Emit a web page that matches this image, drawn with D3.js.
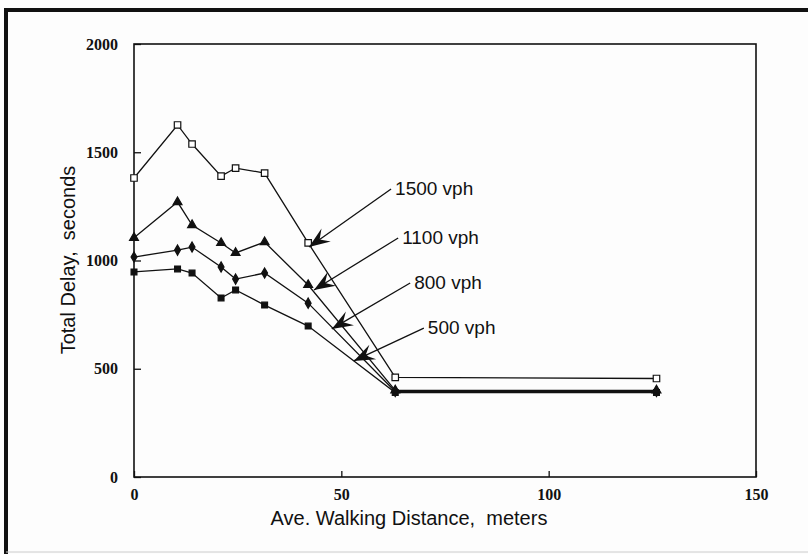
<!DOCTYPE html>
<html lang="en">
<head>
    <meta charset="utf-8">
    <style type="text/css">
        body { margin: 0; background: #fdfdfd; }
        .tick text { font-family: "Liberation Serif", serif; font-weight: bold; font-size: 16px; fill: #111; }
        .axis-title { font-family: "Liberation Sans", Arial, sans-serif; font-size: 20px; fill: #111; white-space: pre; }
        .series { fill: none; stroke: #111; stroke-width: 1.3; }
        .leader { stroke: #111; stroke-width: 1.3; }
        .callout { font-family: "Liberation Sans", Arial, sans-serif; font-size: 19px; fill: #111; }
    </style>
</head>
<body>
<svg width="808" height="554"></svg>

<script src="https://d3js.org/d3.v7.min.js"></script>
<script type="text/javascript">

    // walking distance (m)
    var distance = [0, 10.5, 14, 21, 24.5, 31.5, 42, 63, 126];

    // total delay (s) per traffic volume
    var delay1500 = [1381, 1626, 1538, 1390, 1427, 1404, 1081, 460, 455];
    var delay1100 = [1105, 1270, 1164, 1081, 1035, 1085, 887, 400, 400];
    var delay800  = [1016, 1048, 1062, 970, 914, 942, 803, 395, 395];
    var delay500  = [947, 961, 942, 827, 864, 794, 697, 390, 390];

    var xTicks = [0, 50, 100, 150];
    var yTicks = [0, 500, 1000, 1500, 2000];

    // callouts: label, arrow start (x, delay) and arrow tip (x, delay)
    var calloutLabels = ["1500 vph", "1100 vph", "800 vph", "500 vph"];
    var calloutFrom = [[62, 1330], [63.7, 1104], [66.6, 896], [69.9, 688]];
    var calloutTip  = [[42.2, 1062], [43.4, 864], [47.7, 684], [53, 536]];

    var svg = d3.select("svg");
    var plotLeft = 134, plotRight = 756, plotTop = 44, plotBottom = 477;

    var x = d3.scaleLinear().domain([0, 150]).range([plotLeft, plotRight]);
    var y = d3.scaleLinear().domain([0, 2000]).range([plotBottom, plotTop]);

    // outer frame
    svg.append("line").attr("x1", 6).attr("y1", 10).attr("x2", 6).attr("y2", 554)
        .attr("stroke", "#111").attr("stroke-width", 4);
    svg.append("line").attr("x1", 4).attr("y1", 10).attr("x2", 808).attr("y2", 10)
        .attr("stroke", "#111").attr("stroke-width", 4);
    svg.append("line").attr("x1", 6).attr("y1", 552).attr("x2", 808).attr("y2", 552)
        .attr("stroke", "#ccc").attr("stroke-width", 1);

    svg.append('defs').append('marker')
        .attr('id', 'arrowhead')
        .attr('viewBox', '-22 -10 24 20')
        .attr('refX', 0)
        .attr('refY', 0)
        .attr('orient', 'auto')
        .attr('markerWidth', 24)
        .attr('markerHeight', 20)
        .attr('markerUnits', 'userSpaceOnUse')
        .append('path')
        .attr('d', 'M0,0 L-21,-8 L-13,0 L-21,8 Z')
        .attr('fill', '#111');

    // axes with inward ticks
    svg.append("g")
        .attr("transform", "translate(0," + plotBottom + ")")
        .call(d3.axisBottom(x).tickValues(xTicks).tickFormat(d3.format("d"))
            .tickSizeInner(-6).tickSizeOuter(0).tickPadding(12))
        .call(function (g) { g.select(".domain").remove(); })
        .call(function (g) { g.selectAll("line").attr("stroke", "#111").attr("stroke-width", 1.3); });

    svg.append("g")
        .attr("transform", "translate(" + plotLeft + ",0)")
        .call(d3.axisLeft(y).tickValues(yTicks).tickFormat(d3.format("d"))
            .tickSizeInner(-7).tickSizeOuter(0).tickPadding(16))
        .call(function (g) { g.select(".domain").remove(); })
        .call(function (g) { g.selectAll("line").attr("stroke", "#111").attr("stroke-width", 1.3); });

    // plot box
    svg.append("rect")
        .attr("x", plotLeft).attr("y", plotTop)
        .attr("width", plotRight - plotLeft).attr("height", plotBottom - plotTop)
        .attr("fill", "none").attr("stroke", "#111").attr("stroke-width", 1.6);

    svg.append("text")
        .attr("class", "axis-title")
        .attr("text-anchor", "middle")
        .attr("x", 409)
        .attr("y", 525)
        .text("Ave. Walking Distance,  meters");

    svg.append("text")
        .attr("class", "axis-title")
        .attr("text-anchor", "middle")
        .attr("transform", "translate(75,260) rotate(-90)")
        .text("Total Delay,  seconds");

    var line = d3.line()
        .x(function (d, i) { return x(distance[i]); })
        .y(function (d) { return y(d); });

    var allSeries = [
        {values: delay1500, symbol: d3.symbolSquare, size: 42, fill: "#fff"},
        {values: delay1100, symbol: d3.symbolTriangle, size: 34, fill: "#111"},
        {values: delay800, symbol: d3.symbolDiamond, size: 30, fill: "#111"},
        {values: delay500, symbol: d3.symbolSquare, size: 34, fill: "#111"}
    ];

    allSeries.forEach(function (s) {
        svg.append("path")
            .datum(s.values)
            .attr("class", "series")
            .attr("d", line);
    });

    allSeries.slice().reverse().forEach(function (s) {
        svg.selectAll(null)
            .data(s.values)
            .enter()
            .append("path")
            .attr("transform", function (d, i) { return "translate(" + x(distance[i]) + "," + y(d) + ")"; })
            .attr("d", d3.symbol().type(s.symbol).size(s.size))
            .attr("fill", s.fill)
            .attr("stroke", "#111")
            .attr("stroke-width", 1.2);
    });

    // callouts
    calloutLabels.forEach(function (label, i) {
        var from = calloutFrom[i], tip = calloutTip[i];
        svg.append("line")
            .attr("class", "leader")
            .attr("x1", x(from[0])).attr("y1", y(from[1]))
            .attr("x2", x(tip[0])).attr("y2", y(tip[1]))
            .attr("marker-end", "url(#arrowhead)");
        svg.append("text")
            .attr("class", "callout")
            .attr("x", x(from[0]) + 4)
            .attr("y", y(from[1]) + 6)
            .text(label);
    });

</script>
</body>
</html>
